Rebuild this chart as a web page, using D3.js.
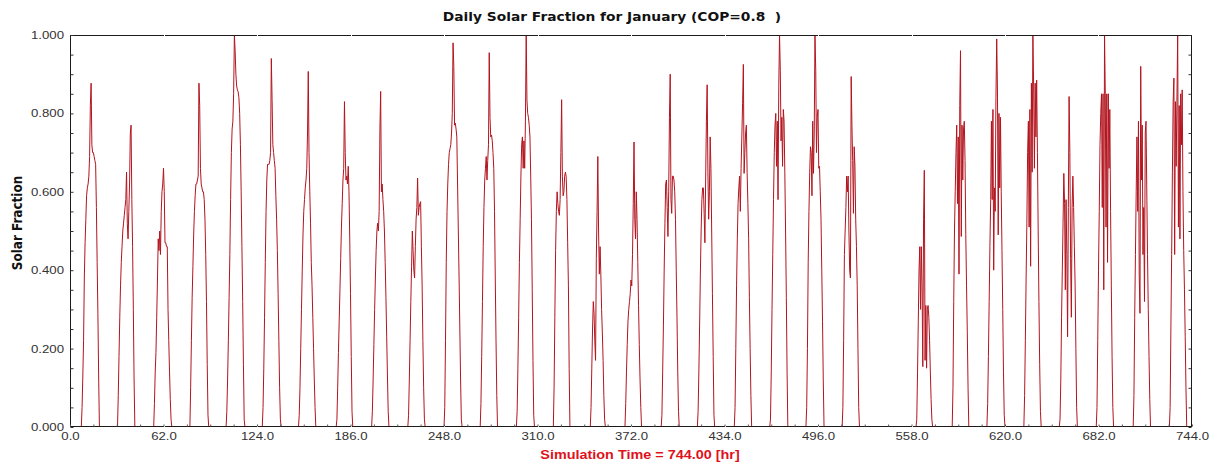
<!DOCTYPE html>
<html>
<head>
<meta charset="utf-8">
<script src="https://cdn.jsdelivr.net/npm/d3@7"></script>
<style>
  html, body { margin: 0; padding: 0; background: #ffffff; }
  svg { display: block; }
</style>
</head>
<body>
<svg id="chart" width="1218" height="464"></svg>
<script>
// Hour of day at which each reading below was taken (night hours are zero).
const hourOfDay = [7.5, 8, 8.5, 9, 9.5, 10, 10.5, 11, 11.5,
                   12, 12.5, 13, 13.5, 14, 14.5, 15, 15.5, 16,
                   16.5, 17, 17.5, 18, 18.5, 19, 19.5, 20, 20.5];

// Solar fraction readings, one array per day of January.
const jan01 = [0, 0.05, 0.13, 0.22, 0.38, 0.47, 0.53, 0.59, 0.61,
               0.62, 0.64, 0.69, 0.82, 0.877, 0.72, 0.70, 0.70, 0.69,
               0.68, 0.67, 0.56, 0.42, 0.29, 0.13, 0, 0, 0];
const jan02 = [0, 0.08, 0.18, 0.28, 0.36, 0.42, 0.46, 0.50, 0.52,
               0.54, 0.56, 0.58, 0.65, 0.52, 0.48, 0.55, 0.62, 0.75,
               0.77, 0.58, 0.46, 0.30, 0.12, 0, 0, 0, 0];
const jan03 = [0, 0.06, 0.14, 0.19, 0.28, 0.375, 0.48, 0.45, 0.50,
               0.44, 0.55, 0.60, 0.62, 0.66, 0.60, 0.47, 0.47, 0.46,
               0.46, 0.30, 0.22, 0.14, 0.07, 0.02, 0, 0, 0];
const jan04 = [0, 0.10, 0.22, 0.33, 0.41, 0.49, 0.55, 0.59, 0.62,
               0.62, 0.63, 0.64, 0.877, 0.82, 0.66, 0.62, 0.61, 0.60,
               0.60, 0.58, 0.53, 0.44, 0.32, 0.16, 0.03, 0, 0];
const jan05 = [0, 0.04, 0.12, 0.22, 0.33, 0.44, 0.58, 0.70, 0.76,
               0.78, 0.85, 1.0, 0.96, 0.90, 0.87, 0.86, 0.855, 0.84,
               0.80, 0.72, 0.60, 0.46, 0.32, 0.16, 0.02, 0, 0];
const jan06 = [0, 0.05, 0.15, 0.28, 0.42, 0.55, 0.63, 0.67, 0.67,
               0.67, 0.68, 0.70, 0.94, 0.835, 0.72, 0.70, 0.68, 0.66,
               0.59, 0.53, 0.45, 0.34, 0.22, 0.10, 0.02, 0, 0];
const jan07 = [0, 0.03, 0.10, 0.20, 0.30, 0.40, 0.49, 0.55, 0.58,
               0.61, 0.63, 0.66, 0.75, 0.907, 0.70, 0.60, 0.52, 0.42,
               0.36, 0.28, 0.20, 0.12, 0.05, 0, 0, 0, 0];
const jan08 = [0, 0, 0, 0.02, 0.10, 0.19, 0.27, 0.35, 0.43,
               0.51, 0.57, 0.63, 0.66, 0.83, 0.70, 0.63, 0.64, 0.62,
               0.665, 0.60, 0.48, 0.34, 0.18, 0.04, 0, 0, 0];
const jan09 = [0, 0, 0.04, 0.12, 0.21, 0.30, 0.38, 0.45, 0.50,
               0.52, 0.50, 0.55, 0.76, 0.856, 0.60, 0.62, 0.58, 0.55,
               0.50, 0.42, 0.33, 0.23, 0.13, 0.04, 0, 0, 0];
const jan10 = [0, 0, 0.03, 0.12, 0.22, 0.32, 0.41, 0.50, 0.45,
               0.40, 0.38, 0.46, 0.53, 0.56, 0.635, 0.54, 0.56, 0.57,
               0.575, 0.46, 0.36, 0.22, 0.10, 0.02, 0, 0, 0];
const jan11 = [0, 0, 0.05, 0.22, 0.42, 0.55, 0.62, 0.67, 0.70,
               0.71, 0.72, 0.75, 0.80, 0.98, 0.92, 0.77, 0.775, 0.76,
               0.74, 0.62, 0.50, 0.38, 0.25, 0.12, 0.02, 0, 0];
const jan12 = [0, 0, 0.06, 0.18, 0.32, 0.46, 0.56, 0.63, 0.66,
               0.69, 0.63, 0.68, 0.72, 0.955, 0.79, 0.74, 0.745, 0.73,
               0.70, 0.66, 0.55, 0.38, 0.22, 0.08, 0, 0, 0];
const jan13 = [0, 0, 0.04, 0.15, 0.28, 0.42, 0.53, 0.64, 0.72,
               0.74, 0.66, 0.73, 0.66, 0.78, 1.0, 0.834, 0.80, 0.79,
               0.77, 0.74, 0.64, 0.53, 0.35, 0.17, 0.03, 0, 0];
const jan14 = [0, 0, 0, 0.10, 0.28, 0.45, 0.55, 0.60, 0.57,
               0.55, 0.54, 0.58, 0.70, 0.835, 0.64, 0.59, 0.60, 0.64,
               0.65, 0.64, 0.58, 0.47, 0.36, 0.15, 0, 0, 0];
const jan15 = [0, 0, 0, 0, 0.05, 0.15, 0.25, 0.32, 0.29,
               0.22, 0.17, 0.43, 0.55, 0.69, 0.50, 0.39, 0.46, 0.39,
               0.30, 0.24, 0.17, 0.08, 0.02, 0, 0, 0, 0];
const jan16 = [0, 0, 0.06, 0.14, 0.21, 0.27, 0.30, 0.32, 0.34,
               0.375, 0.36, 0.44, 0.57, 0.727, 0.53, 0.48, 0.60, 0.53,
               0.42, 0.31, 0.21, 0.12, 0.05, 0, 0, 0, 0];
const jan17 = [0, 0, 0.03, 0.14, 0.26, 0.40, 0.52, 0.62, 0.63,
               0.56, 0.486, 0.60, 0.79, 0.90, 0.58, 0.545, 0.64, 0.64,
               0.63, 0.60, 0.53, 0.40, 0.28, 0.14, 0.04, 0, 0];
const jan18 = [0, 0, 0.04, 0.14, 0.26, 0.39, 0.50, 0.58, 0.61,
               0.61, 0.545, 0.47, 0.63, 0.78, 0.873, 0.65, 0.53, 0.60,
               0.74, 0.66, 0.50, 0.34, 0.18, 0.03, 0, 0, 0];
const jan19 = [0, 0, 0, 0.05, 0.20, 0.36, 0.48, 0.57, 0.61,
               0.64, 0.55, 0.66, 0.74, 0.826, 0.925, 0.647, 0.70, 0.75,
               0.77, 0.65, 0.57, 0.48, 0.33, 0.20, 0.08, 0, 0];
const jan20 = [0, 0, 0.02, 0.14, 0.30, 0.44, 0.58, 0.70, 0.77,
               0.80, 0.665, 0.78, 0.58, 0.87, 1.0, 0.91, 0.73, 0.79,
               0.665, 0.81, 0.78, 0.65, 0.50, 0.33, 0.14, 0, 0];
const jan21 = [0, 0, 0.05, 0.20, 0.42, 0.55, 0.65, 0.715, 0.70,
               0.59, 0.78, 0.647, 0.75, 1.0, 0.91, 0.70, 0.79, 0.81,
               0.66, 0.665, 0.60, 0.53, 0.40, 0.27, 0.12, 0, 0];
const jan22 = [0, 0, 0.05, 0.22, 0.44, 0.50, 0.56, 0.64, 0.60,
               0.64, 0.50, 0.40, 0.38, 0.894, 0.77, 0.68, 0.545, 0.715,
               0.665, 0.53, 0.46, 0.36, 0.20, 0.05, 0, 0, 0];
const jan23 = [0, 0, 0, 0, 0, 0, 0, 0, 0,
               0, 0, 0, 0, 0, 0, 0, 0, 0,
               0, 0, 0, 0, 0, 0, 0, 0, 0];
const jan24 = [0, 0, 0, 0, 0.02, 0.14, 0.27, 0.40, 0.46,
               0.30, 0.46, 0.36, 0.154, 0.53, 0.655, 0.17, 0.31, 0.15,
               0.30, 0.31, 0.28, 0.22, 0.14, 0.07, 0.02, 0, 0];
const jan25 = [0, 0, 0, 0, 0.10, 0.32, 0.50, 0.60, 0.70,
               0.77, 0.57, 0.74, 0.39, 0.82, 0.96, 0.486, 0.77, 0.63,
               0.76, 0.78, 0.68, 0.49, 0.36, 0.24, 0.10, 0, 0];
const jan26 = [0, 0, 0.06, 0.18, 0.32, 0.46, 0.58, 0.78, 0.58,
               0.81, 0.40, 0.61, 0.55, 0.84, 0.99, 0.86, 0.49, 0.80,
               0.61, 0.79, 0.60, 0.45, 0.30, 0.14, 0.03, 0, 0];
const jan27 = [0, 0, 0, 0.08, 0.22, 0.38, 0.52, 0.70, 0.78,
               0.51, 0.81, 0.41, 0.877, 0.65, 1.0, 0.87, 0.66, 0.877,
               0.74, 0.885, 0.70, 0.50, 0.32, 0.16, 0.04, 0, 0];
const jan28 = [0, 0, 0.02, 0.12, 0.28, 0.40, 0.52, 0.647, 0.57,
               0.35, 0.58, 0.44, 0.23, 0.56, 0.843, 0.70, 0.43, 0.28,
               0.56, 0.64, 0.56, 0.46, 0.36, 0.20, 0.05, 0, 0];
const jan29 = [0, 0, 0, 0.05, 0.22, 0.40, 0.55, 0.72, 0.80,
               0.85, 0.56, 0.85, 0.35, 1.0, 0.85, 0.51, 0.85, 0.42,
               0.85, 0.66, 0.81, 0.55, 0.36, 0.18, 0.05, 0, 0];
const jan30 = [0, 0, 0, 0, 0.08, 0.28, 0.44, 0.60, 0.74,
               0.55, 0.78, 0.39, 0.29, 0.92, 0.63, 0.77, 0.44, 0.56,
               0.32, 0.75, 0.78, 0.61, 0.44, 0.30, 0.18, 0.07, 0];
const jan31 = [0, 0, 0, 0, 0.05, 0.25, 0.44, 0.65, 0.83,
               0.89, 0.44, 0.83, 0.665, 0.83, 1.0, 0.51, 0.82, 0.48,
               0.85, 0.72, 0.86, 0.60, 0.45, 0.35, 0.23, 0.10, 0];

const januaryDays = [jan01, jan02, jan03, jan04, jan05, jan06, jan07, jan08,
                     jan09, jan10, jan11, jan12, jan13, jan14, jan15, jan16,
                     jan17, jan18, jan19, jan20, jan21, jan22, jan23, jan24,
                     jan25, jan26, jan27, jan28, jan29, jan30, jan31];

const xTicks = [0, 62, 124, 186, 248, 310, 372, 434, 496, 558, 620, 682, 744];
const yTicks = [0, 0.2, 0.4, 0.6, 0.8, 1.0];

const titleText = "Daily Solar Fraction for January (COP=0.8  )";
const xTitle = "Simulation Time = 744.00 [hr]";
const yTitle = "Solar Fraction";

// ---- layout ----
const plot = { left: 70, right: 1192, top: 35, bottom: 427 };
const stretch = "scale(1.2,1)";   // wide lettering used throughout the chart

const svg = d3.select("#chart");

const x = d3.scaleLinear().domain([0, 744]).range([plot.left, plot.right]);
const y = d3.scaleLinear().domain([0, 1]).range([plot.bottom, plot.top]);

// hourly time series built from the daily readings
const series = [[0, 0]];
januaryDays.forEach((vals, d) => {
  vals.forEach((v, i) => series.push([24 * d + hourOfDay[i], v]));
});
series.push([744, 0]);

svg.append("defs").append("clipPath").attr("id", "plotClip")
  .append("rect")
  .attr("x", plot.left).attr("y", plot.top - 1)
  .attr("width", plot.right - plot.left).attr("height", plot.bottom - plot.top + 1);

const line = d3.line().x(d => x(d[0])).y(d => y(d[1]));

svg.append("path")
  .datum(series)
  .attr("clip-path", "url(#plotClip)")
  .attr("fill", "none")
  .attr("stroke", "#b3141e")
  .attr("stroke-width", 1)
  .attr("stroke-linejoin", "miter")
  .attr("d", line);

// ---- frame ----
svg.append("rect")
  .attr("x", plot.left + 0.5).attr("y", plot.top + 0.5)
  .attr("width", plot.right - plot.left - 1).attr("height", plot.bottom - plot.top - 1)
  .attr("fill", "none")
  .attr("stroke", "#1b1b1b")
  .attr("stroke-width", 1);

// small breaks in the top and bottom border at the major time ticks
svg.append("g").selectAll("line")
  .data(xTicks.slice(1, -1).flatMap(t => [[t, plot.top], [t, plot.bottom]]))
  .join("line")
  .attr("x1", d => Math.round(x(d[0])) + 0.5).attr("x2", d => Math.round(x(d[0])) + 0.5)
  .attr("y1", d => d[1] - 1).attr("y2", d => d[1] + 2)
  .attr("stroke", "#ffffff").attr("stroke-width", 1);

// ---- minor ticks ----
const yMinor = d3.range(0, 1.0001, 0.05);
const xMinor = d3.range(0, 744.01, 15.5);

svg.append("g")
  .attr("transform", `translate(${plot.left + 0.5},0)`)
  .call(d3.axisLeft(y).tickValues(yMinor).tickSize(-3).tickFormat(""))
  .call(g => g.select(".domain").remove())
  .selectAll("line").attr("stroke", "#333");

svg.append("g")
  .attr("transform", `translate(${plot.right - 0.5},0)`)
  .call(d3.axisRight(y).tickValues(yMinor).tickSize(-3).tickFormat(""))
  .call(g => g.select(".domain").remove())
  .selectAll("line").attr("stroke", "#333");

svg.append("g")
  .attr("transform", `translate(0,${plot.bottom - 0.5})`)
  .call(d3.axisBottom(x).tickValues(xMinor).tickSize(-2).tickFormat(""))
  .call(g => g.select(".domain").remove())
  .selectAll("line").attr("stroke", "#555");

// ---- labelled axes ----
const yAxis = svg.append("g")
  .attr("transform", `translate(${plot.left},0)`)
  .call(d3.axisLeft(y).tickValues(yTicks).tickSize(0).tickPadding(5)
    .tickFormat(d => d.toFixed(3)));
yAxis.select(".domain").remove();
yAxis.selectAll("text")
  .attr("transform", stretch)
  .attr("fill", "#333")
  .style("font-family", "'Liberation Sans', Arial, sans-serif")
  .style("font-size", "11px");

const xAxis = svg.append("g")
  .attr("transform", `translate(0,${plot.bottom})`)
  .call(d3.axisBottom(x).tickValues(xTicks).tickSize(0).tickPadding(5)
    .tickFormat(d => d.toFixed(1)));
xAxis.select(".domain").remove();
xAxis.selectAll("text")
  .attr("transform", stretch)
  .attr("fill", "#333")
  .style("font-family", "'Liberation Sans', Arial, sans-serif")
  .style("font-size", "11px");

// ---- titles ----
svg.append("text")
  .attr("transform", `translate(612,20.5) ${stretch}`)
  .attr("text-anchor", "middle")
  .attr("fill", "#111")
  .style("white-space", "pre")
  .style("font-family", "'DejaVu Sans', Verdana, sans-serif")
  .style("font-weight", "bold")
  .style("font-size", "11.5px")
  .text(titleText);

svg.append("text")
  .attr("transform", `translate(640,459) ${stretch}`)
  .attr("text-anchor", "middle")
  .attr("fill", "#e0121c")
  .style("font-family", "'Liberation Sans', Arial, sans-serif")
  .style("font-weight", "bold")
  .style("font-size", "12px")
  .text(xTitle);

svg.append("text")
  .attr("transform", `translate(21.5,223) ${stretch} rotate(-90)`)
  .attr("text-anchor", "middle")
  .attr("fill", "#111")
  .style("font-family", "'DejaVu Sans', Verdana, sans-serif")
  .style("font-weight", "bold")
  .style("font-size", "12px")
  .text(yTitle);
</script>
</body>
</html>
